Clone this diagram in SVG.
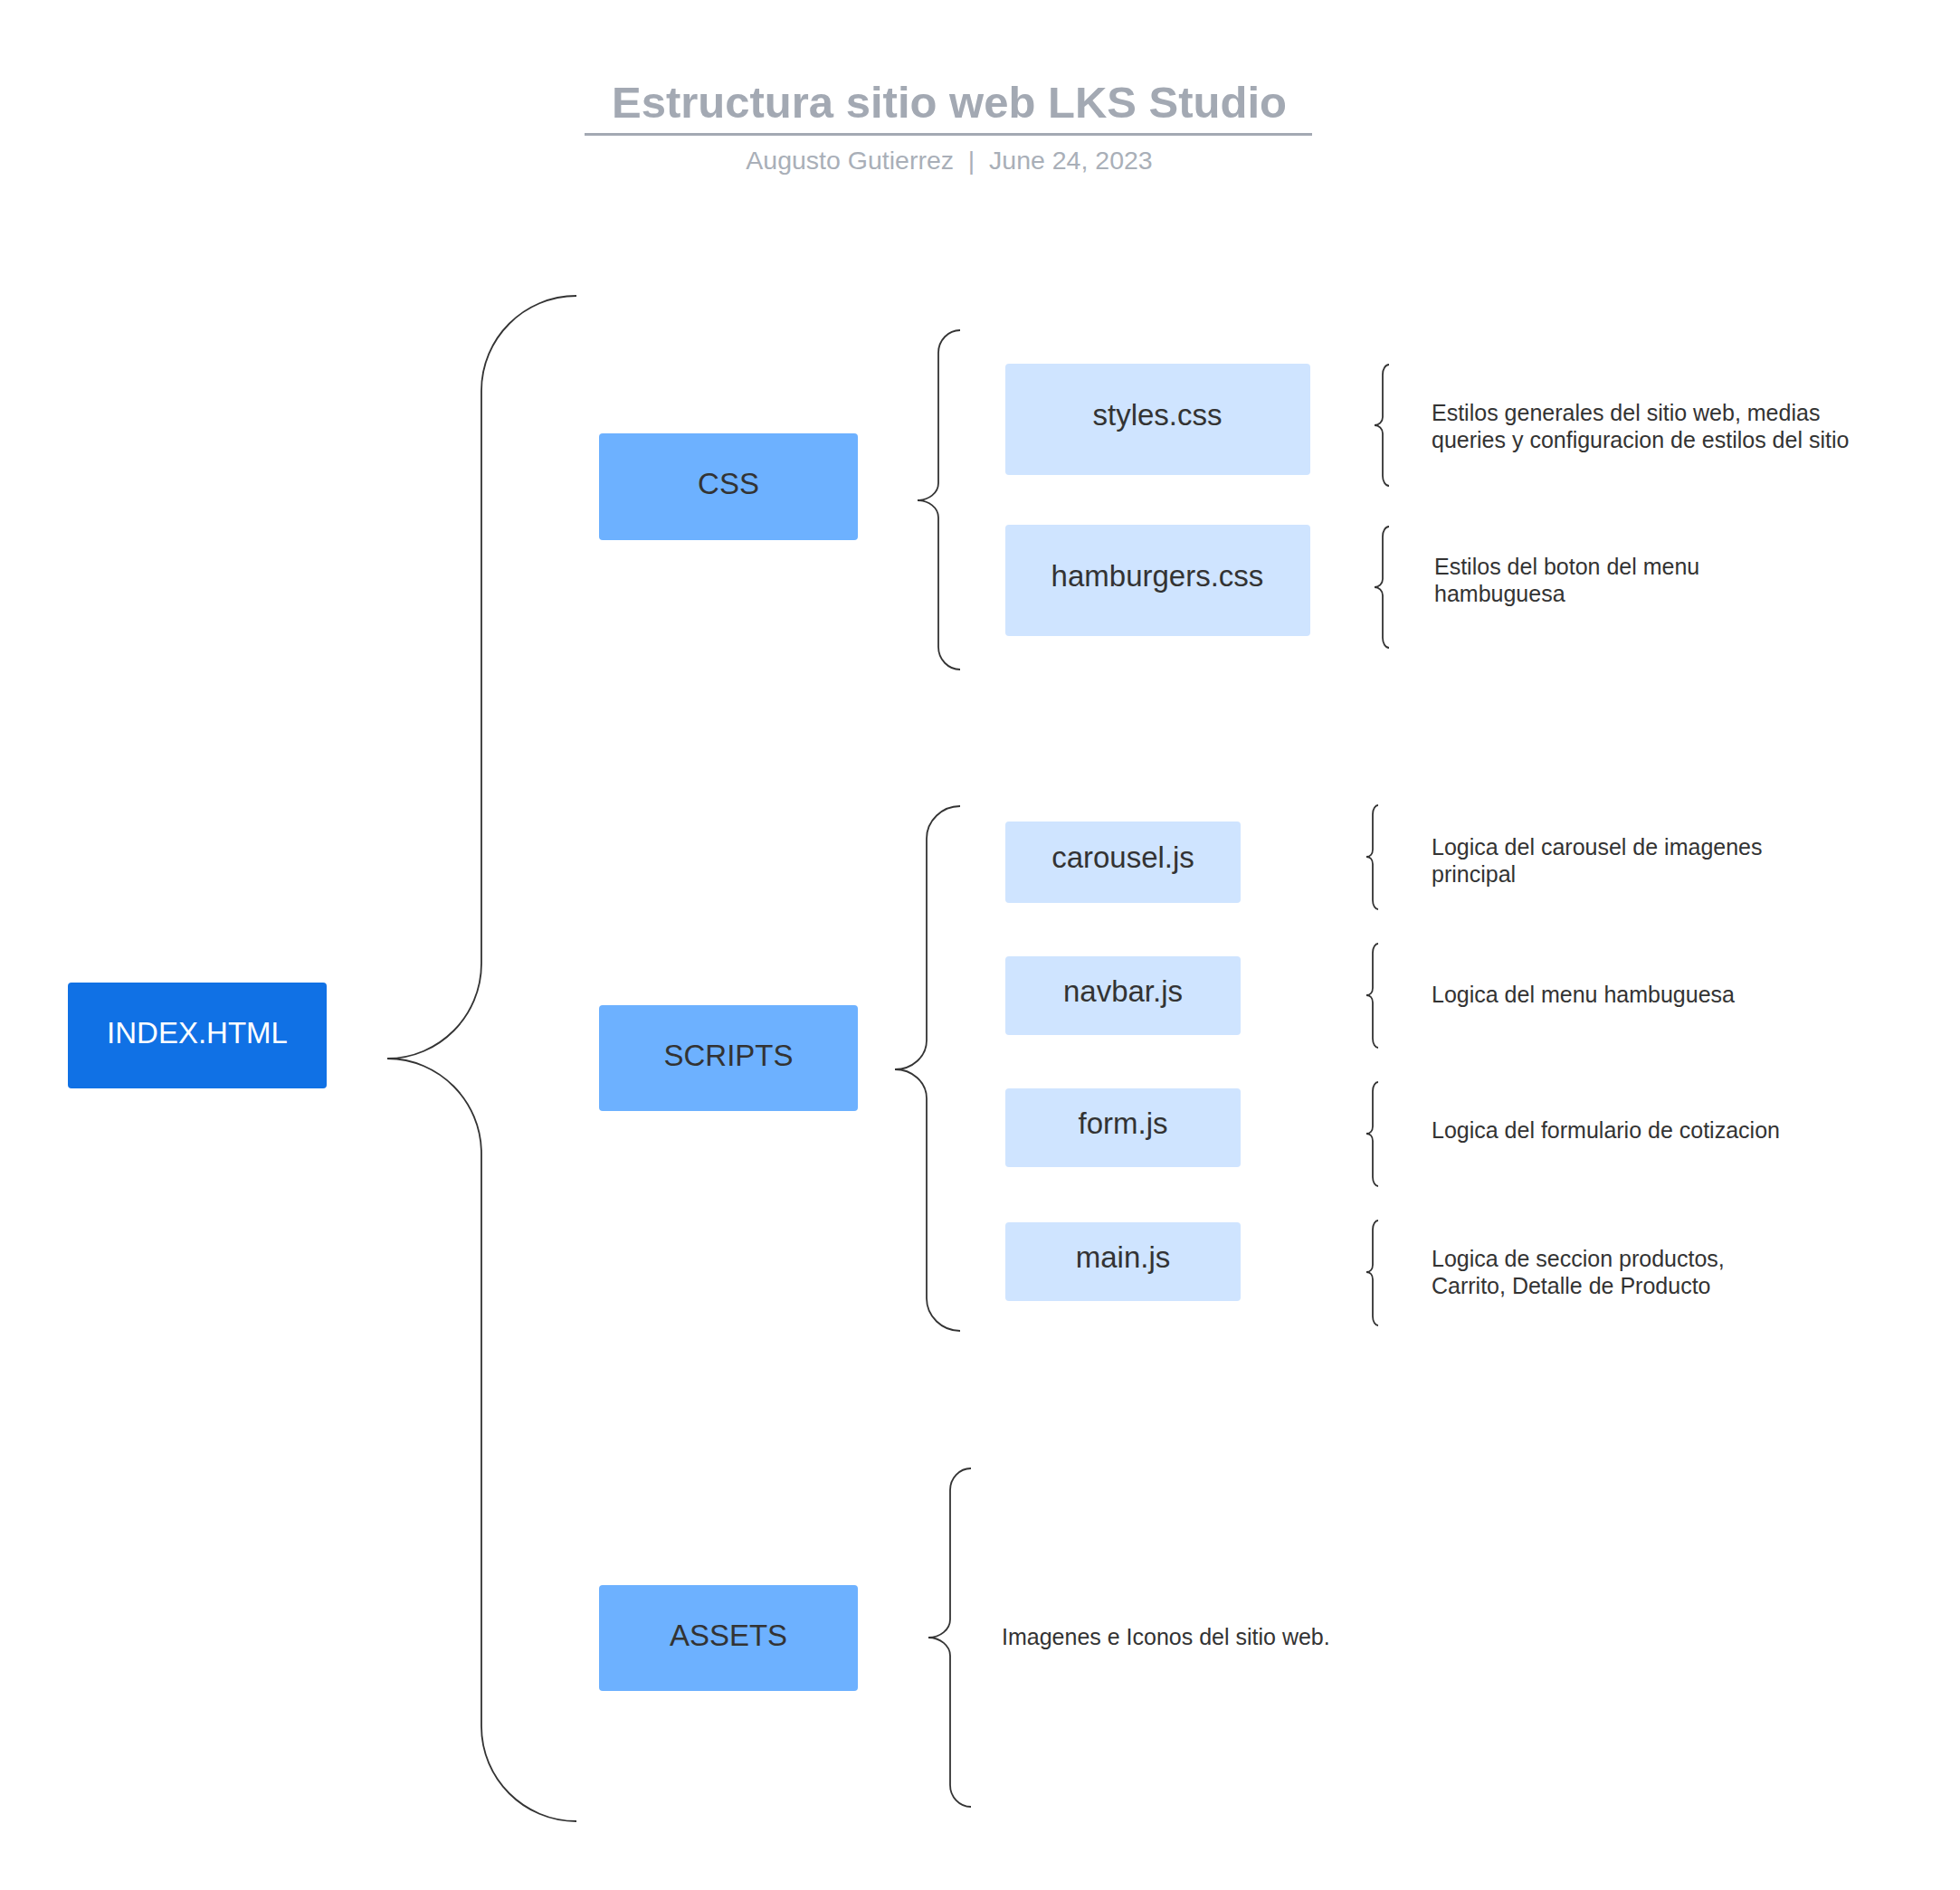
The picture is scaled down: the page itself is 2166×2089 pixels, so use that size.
<svg xmlns="http://www.w3.org/2000/svg" width="2166" height="2089" viewBox="0 0 2166 2089">
<style>
.title{font-family:"Liberation Sans",Arial,sans-serif;font-weight:bold;font-size:49px;fill:#a3a9b3;text-anchor:middle}
.sub{font-family:"Liberation Sans",Arial,sans-serif;font-size:28.5px;fill:#a9afb8;text-anchor:middle}
.lbl{font-family:"Liberation Sans",Arial,sans-serif;font-size:33px;fill:#333333;text-anchor:middle}
.lblw{font-family:"Liberation Sans",Arial,sans-serif;font-size:33px;fill:#ffffff;text-anchor:middle}
.desc{font-family:"Liberation Sans",Arial,sans-serif;font-size:25px;fill:#333333}
.main{fill:#1071e5}
.mid{fill:#6db1ff}
.leaf{fill:#cfe4ff}
.brace{fill:none;stroke:#333333;stroke-width:1.8}
</style>
<rect width="2166" height="2089" fill="#ffffff"/>
<g id="header">
<text class="title" x="1049" y="130">Estructura sitio web LKS Studio</text>
<rect x="646" y="147" width="804" height="3" fill="#a3a9b3"/>
<text class="sub" x="1049" y="187" xml:space="preserve">Augusto Gutierrez  |  June 24, 2023</text>
</g>
<g id="connectors">
<path class="brace" d="M 637 327 C 579 327 532 374 532 432 L 532 1065 C 532 1123 485 1170 428 1170 C 485 1170 532 1217 532 1275 L 532 1908 C 532 1966 579 2013 637 2013"/>
<path class="brace" d="M 1061 365 C 1048 365 1037 376 1037 390 L 1037 534 C 1037 545 1026 553 1014 553 C 1026 553 1037 561 1037 572 L 1037 715 C 1037 729 1048 740 1061 740"/>
<path class="brace" d="M 1061 891 C 1041 891 1024 907 1024 927 L 1024 1150 C 1024 1168 1008 1182 989 1182 C 1008 1182 1024 1196 1024 1214 L 1024 1435 C 1024 1455 1041 1471 1061 1471"/>
<path class="brace" d="M 1073 1623 C 1060 1623 1050 1634 1050 1647 L 1050 1790 C 1050 1801 1039 1810 1026 1810 C 1039 1810 1050 1819 1050 1830 L 1050 1973 C 1050 1986 1060 1997 1073 1997"/>
<path class="brace" d="M 1535 403 C 1531 403 1528 408 1528 414 L 1528 461 C 1528 466 1524 470 1519 470 C 1524 470 1528 474 1528 479 L 1528 526 C 1528 532 1531 537 1535 537"/>
<path class="brace" d="M 1535 582 C 1531 582 1528 587 1528 593 L 1528 640 C 1528 645 1524 649 1519 649 C 1524 649 1528 653 1528 658 L 1528 705 C 1528 711 1531 716 1535 716"/>
<path class="brace" d="M 1523 890 C 1520 890 1517 894 1517 900 L 1517 939 C 1517 944 1514 947 1510 947 C 1514 947 1517 950 1517 955 L 1517 995 C 1517 1001 1520 1005 1523 1005"/>
<path class="brace" d="M 1523 1043 C 1520 1043 1517 1047 1517 1053 L 1517 1092 C 1517 1097 1514 1100 1510 1100 C 1514 1100 1517 1103 1517 1108 L 1517 1148 C 1517 1154 1520 1158 1523 1158"/>
<path class="brace" d="M 1523 1196 C 1520 1196 1517 1200 1517 1206 L 1517 1245 C 1517 1250 1514 1253 1510 1253 C 1514 1253 1517 1256 1517 1261 L 1517 1301 C 1517 1307 1520 1311 1523 1311"/>
<path class="brace" d="M 1523 1349 C 1520 1349 1517 1353 1517 1359 L 1517 1398 C 1517 1403 1514 1406 1510 1406 C 1514 1406 1517 1409 1517 1414 L 1517 1455 C 1517 1461 1520 1465 1523 1465"/>
</g>
<g id="index-html">
<rect class="main" x="75" y="1086" width="286" height="117" rx="4"/>
<text class="lblw" x="218" y="1153">INDEX.HTML</text>
</g>
<g id="css">
<rect class="mid" x="662" y="479" width="286" height="118" rx="4"/>
<text class="lbl" x="805" y="546">CSS</text>
</g>
<g id="scripts">
<rect class="mid" x="662" y="1111" width="286" height="117" rx="4"/>
<text class="lbl" x="805" y="1178">SCRIPTS</text>
</g>
<g id="assets">
<rect class="mid" x="662" y="1752" width="286" height="117" rx="4"/>
<text class="lbl" x="805" y="1819">ASSETS</text>
</g>
<g id="styles-css">
<rect class="leaf" x="1111" y="402" width="337" height="123" rx="4"/>
<text class="lbl" x="1279" y="470">styles.css</text>
</g>
<g id="hamburgers-css">
<rect class="leaf" x="1111" y="580" width="337" height="123" rx="4"/>
<text class="lbl" x="1279" y="648">hamburgers.css</text>
</g>
<g id="carousel-js">
<rect class="leaf" x="1111" y="908" width="260" height="90" rx="4"/>
<text class="lbl" x="1241" y="959">carousel.js</text>
</g>
<g id="navbar-js">
<rect class="leaf" x="1111" y="1057" width="260" height="87" rx="4"/>
<text class="lbl" x="1241" y="1107">navbar.js</text>
</g>
<g id="form-js">
<rect class="leaf" x="1111" y="1203" width="260" height="87" rx="4"/>
<text class="lbl" x="1241" y="1253">form.js</text>
</g>
<g id="main-js">
<rect class="leaf" x="1111" y="1351" width="260" height="87" rx="4"/>
<text class="lbl" x="1241" y="1401">main.js</text>
</g>
<g id="descriptions">
<text class="desc" x="1582" y="465">Estilos generales del sitio web, medias</text>
<text class="desc" x="1582" y="495">queries y configuracion de estilos del sitio</text>
<text class="desc" x="1585" y="635">Estilos del boton del menu</text>
<text class="desc" x="1585" y="665">hambuguesa</text>
<text class="desc" x="1582" y="945">Logica del carousel de imagenes</text>
<text class="desc" x="1582" y="975">principal</text>
<text class="desc" x="1582" y="1108">Logica del menu hambuguesa</text>
<text class="desc" x="1582" y="1258">Logica del formulario de cotizacion</text>
<text class="desc" x="1582" y="1400">Logica de seccion productos,</text>
<text class="desc" x="1582" y="1430">Carrito, Detalle de Producto</text>
<text class="desc" x="1107" y="1818">Imagenes e Iconos del sitio web.</text>
</g>
</svg>
